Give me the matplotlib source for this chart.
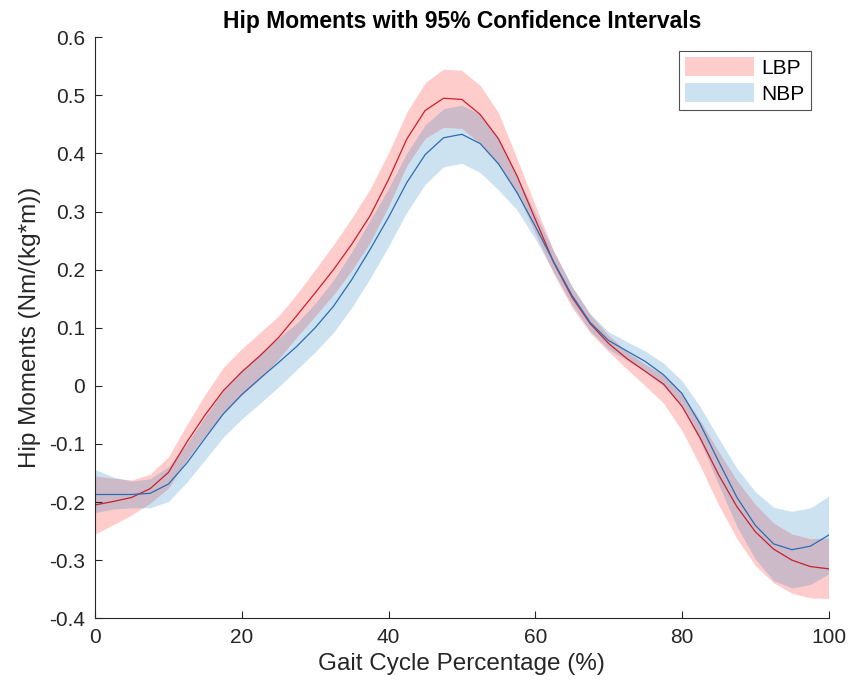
import matplotlib
matplotlib.use("Agg")
import matplotlib.pyplot as plt
from matplotlib.patches import Patch
from matplotlib.ticker import FuncFormatter

plt.rcParams['font.family'] = ['Liberation Sans', 'DejaVu Sans']

# gait cycle percentage
gait_pct = [0, 2.5, 5, 7.5, 10, 12.5, 15, 17.5, 20, 22.5, 25, 27.5, 30, 32.5, 35, 37.5,
            40, 42.5, 45, 47.5, 50, 52.5, 55, 57.5, 60, 62.5, 65, 67.5, 70, 72.5, 75,
            77.5, 80, 82.5, 85, 87.5, 90, 92.5, 95, 97.5, 100]

# LBP mean and CI half widths (upper / lower)
lbp_mean = [-0.205, -0.199, -0.192, -0.177, -0.149, -0.097, -0.050, -0.008, 0.024, 0.052,
            0.083, 0.121, 0.160, 0.200, 0.244, 0.293, 0.355, 0.425, 0.474, 0.495, 0.493,
            0.467, 0.425, 0.362, 0.287, 0.213, 0.153, 0.107, 0.073, 0.047, 0.025, 0.003,
            -0.035, -0.090, -0.153, -0.208, -0.251, -0.281, -0.300, -0.311, -0.315]
lbp_up = [0.050, 0.040, 0.030, 0.025, 0.027, 0.030, 0.035, 0.040, 0.040, 0.040, 0.037,
          0.037, 0.040, 0.043, 0.045, 0.046, 0.046, 0.046, 0.048, 0.050, 0.050, 0.050,
          0.045, 0.030, 0.024, 0.020, 0.018, 0.016, 0.014, 0.012, 0.012, 0.015, 0.022,
          0.030, 0.040, 0.045, 0.047, 0.045, 0.045, 0.048, 0.053]
lbp_dn = [0.050, 0.040, 0.030, 0.025, 0.027, 0.030, 0.035, 0.040, 0.040, 0.040, 0.037,
          0.037, 0.040, 0.043, 0.045, 0.046, 0.046, 0.046, 0.048, 0.050, 0.050, 0.050,
          0.045, 0.030, 0.024, 0.020, 0.018, 0.016, 0.014, 0.018, 0.025, 0.033, 0.042,
          0.048, 0.052, 0.055, 0.058, 0.058, 0.057, 0.054, 0.051]

# NBP mean and CI half widths
nbp_mean = [-0.187, -0.187, -0.187, -0.185, -0.169, -0.133, -0.090, -0.048, -0.015, 0.013,
            0.040, 0.068, 0.100, 0.137, 0.183, 0.235, 0.290, 0.350, 0.398, 0.427, 0.433,
            0.417, 0.382, 0.333, 0.275, 0.214, 0.156, 0.109, 0.078, 0.060, 0.042, 0.019,
            -0.013, -0.066, -0.130, -0.192, -0.240, -0.272, -0.282, -0.276, -0.257]
nbp_up = [0.043, 0.030, 0.023, 0.025, 0.030, 0.033, 0.037, 0.040, 0.042, 0.043, 0.042,
          0.040, 0.042, 0.045, 0.048, 0.050, 0.050, 0.051, 0.051, 0.050, 0.050, 0.050,
          0.045, 0.030, 0.022, 0.018, 0.016, 0.015, 0.015, 0.016, 0.018, 0.020, 0.022,
          0.030, 0.040, 0.050, 0.058, 0.063, 0.066, 0.066, 0.067]
nbp_dn = [0.031, 0.025, 0.023, 0.025, 0.030, 0.033, 0.037, 0.040, 0.042, 0.043, 0.042,
          0.040, 0.042, 0.045, 0.048, 0.050, 0.050, 0.051, 0.051, 0.050, 0.050, 0.050,
          0.045, 0.030, 0.022, 0.018, 0.016, 0.015, 0.015, 0.016, 0.018, 0.020, 0.022,
          0.030, 0.040, 0.050, 0.058, 0.063, 0.066, 0.066, 0.067]

lbp_lo = [m - d for m, d in zip(lbp_mean, lbp_dn)]
lbp_hi = [m + u for m, u in zip(lbp_mean, lbp_up)]
nbp_lo = [m - d for m, d in zip(nbp_mean, nbp_dn)]
nbp_hi = [m + u for m, u in zip(nbp_mean, nbp_up)]

fig = plt.figure(figsize=(8.49, 6.9), dpi=100)
ax = fig.add_axes([0.112, 0.104, 0.864, 0.842])

ax.fill_between(gait_pct, lbp_lo, lbp_hi, color=(1, 0, 0), alpha=0.2, linewidth=0)
ax.fill_between(gait_pct, nbp_lo, nbp_hi, color=(0, 0.447, 0.741), alpha=0.2, linewidth=0)
ax.plot(gait_pct, lbp_mean, color='#cc1f2c', linewidth=0.9)
ax.plot(gait_pct, nbp_mean, color='#2b6cb3', linewidth=0.9)

ax.set_xlim(0, 100)
ax.set_ylim(-0.4, 0.6)
ax.set_xticks([0, 20, 40, 60, 80, 100])
ax.set_yticks([-0.4, -0.3, -0.2, -0.1, 0, 0.1, 0.2, 0.3, 0.4, 0.5, 0.6])
ax.yaxis.set_major_formatter(FuncFormatter(lambda v, p: "0" if abs(v) < 1e-9 else f"{v:.1f}"))
ax.tick_params(direction='in', labelsize=15, colors='#262626', length=5, pad=7)
for s in ['top', 'right']:
    ax.spines[s].set_visible(False)
for s in ['left', 'bottom']:
    ax.spines[s].set_color('#262626')

ax.set_xlabel("Gait Cycle Percentage (%)", fontsize=17.5, color='#262626', labelpad=4)
ax.set_ylabel("Hip Moments (Nm/(kg*m))", fontsize=17.5, color='#262626', labelpad=6)
ax.set_title("Hip Moments with 95% Confidence Intervals", fontsize=16.5, fontweight='bold', pad=7)

handles = [Patch(facecolor=(1, 0, 0), alpha=0.2, edgecolor='none', label='LBP'),
           Patch(facecolor=(0, 0.447, 0.741), alpha=0.2, edgecolor='none', label='NBP')]
leg = ax.legend(handles=handles, loc='upper right', bbox_to_anchor=(0.976, 0.977), fontsize=15,
                fancybox=False, edgecolor='#262626', handlelength=3.3, handleheight=1.05,
                borderpad=0.3, labelspacing=0.25, handletextpad=0.35, borderaxespad=0)
leg.get_frame().set_linewidth(0.8)

fig.savefig("out.png", dpi=100)
